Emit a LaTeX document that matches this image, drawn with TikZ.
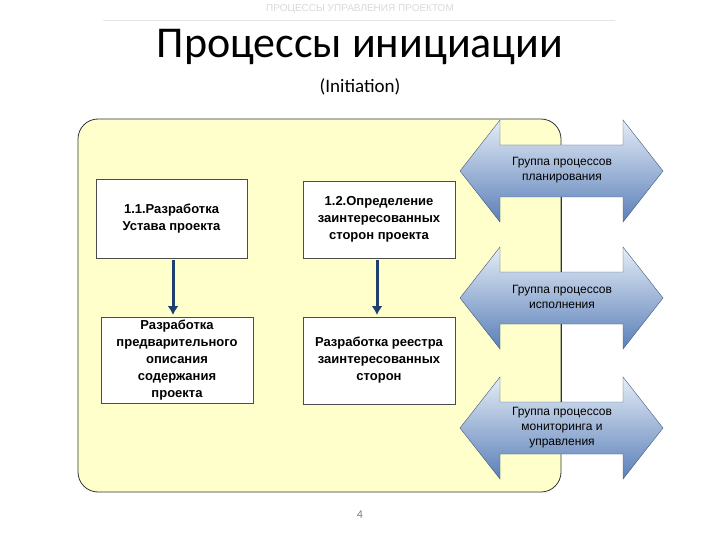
\documentclass[tikz,border=0pt]{standalone}
\usepackage{fontspec}
\usetikzlibrary{arrows.meta}
\setmainfont{Liberation Sans}
\newfontfamily\calfont{Carlito}
\definecolor{ylw}{HTML}{FFFFCC}
\definecolor{arrtop}{HTML}{E4ECF6}
\definecolor{arrbot}{HTML}{5A7FB8}
\definecolor{darr}{HTML}{1F3F6F}
\begin{document}
\begin{tikzpicture}[x=1pt,y=-1pt,
  pbox/.style={draw=black!70,fill=white,line width=0.6pt,align=center,font=\bfseries\fontsize{13}{17}\selectfont,inner sep=2pt},
  dbl/.style={draw=arrbot!70!black,line width=0.4pt,top color=arrtop,bottom color=arrbot},
  flow/.style={draw=darr,line width=3pt,-{Latex[length=9pt,width=11pt]}},
  glab/.style={align=center,font=\fontsize{12}{15}\selectfont}]
\useasboundingbox (0,0) rectangle (720,540);
\node[text=black!15,font=\fontsize{10}{11}\selectfont] (hdr) at (360,9) {ПРОЦЕССЫ УПРАВЛЕНИЯ ПРОЕКТОМ};
\draw[black!10] (103,20) -- (615,20);
\node[font=\calfont\fontsize{44}{48}\selectfont] (title) at (360,47) {Процессы инициации};
\node[font=\calfont\fontsize{19}{22}\selectfont] (sub) at (360,87) {(Initiation)};
\draw[fill=ylw,draw=black!80,line width=0.8pt,rounded corners=20pt] (78,119) rectangle (561,492);
\foreach \c/\n in {171/a1,298/a2,428/a3}{
  \draw[dbl] (460,\c) -- (500,\c-51) -- (500,\c-26) -- (623,\c-26) -- (623,\c-51) -- (663,\c) -- (623,\c+51) -- (623,\c+26) -- (500,\c+26) -- (500,\c+51) -- cycle;
}
\draw[black!80,line width=0.8pt] (561,197) -- (561,272) (561,324) -- (561,402);
\node[glab] (g1) at (562,170) {Группа процессов\\планирования};
\node[glab] (g2) at (562,297) {Группа процессов\\исполнения};
\node[glab] (g3) at (562,428) {Группа процессов\\мониторинга и\\управления};
\node[pbox,minimum width=151pt,minimum height=79pt] (b1) at (171.5,218.5) {1.1.Разработка\\Устава проекта};
\node[pbox,minimum width=152pt,minimum height=77pt] (b2) at (379,219.5) {1.2.Определение\\заинтересованных\\сторон проекта};
\node[pbox,minimum width=152pt,minimum height=86pt] (b3) at (177,360) {Разработка\\предварительного\\описания\\содержания\\проекта};
\node[pbox,minimum width=152pt,minimum height=87pt] (b4) at (379,360.5) {Разработка реестра\\заинтересованных\\сторон};
\draw[flow] (173,260) -- (173,315);
\draw[flow] (377,260) -- (377,315);
\node[text=black!50,font=\calfont\fontsize{12}{14}\selectfont] (pg) at (360,515) {4};
\end{tikzpicture}
\end{document}
